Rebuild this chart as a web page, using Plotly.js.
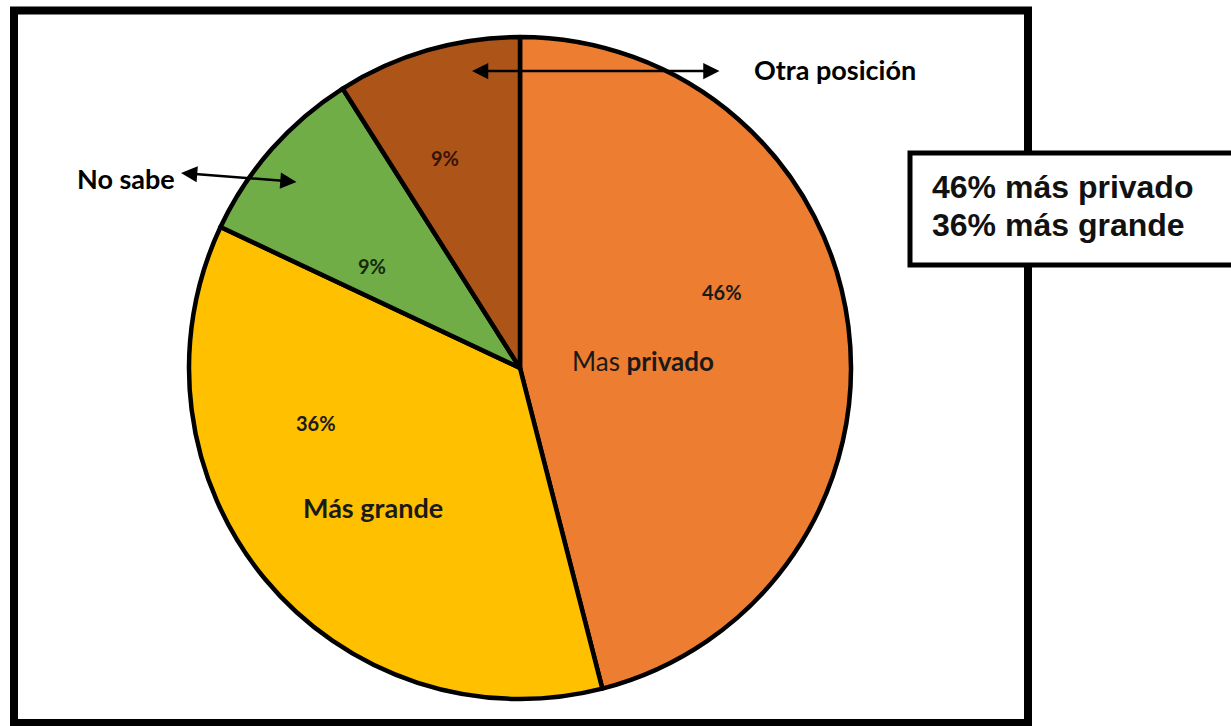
<!DOCTYPE html>
<html>
<head>
<meta charset="utf-8">
<script src="https://cdn.plot.ly/plotly-3.0.1.min.js"></script>
<style>html,body{margin:0;padding:0;background:#fff;}#chart{width:1231px;height:726px;}</style>
</head>
<body>
<div id="chart"></div>
<script>
// ---- data ----
const categories = ["Mas privado", "Más grande", "No sabe", "Otra posición"];
const values = [46, 36, 9, 9];
const sliceColors = ["#ED7D31", "#FFC000", "#70AD47", "#AD5519"];
const summaryLines = ["46% más privado", "36% más grande"];

// ---- layout helpers (positions in pixels of the 1231x726 page) ----
const W = 1231, H = 726;
const px = x => x / W;
const py = y => 1 - y / H;
const cx = 520, cy = 368, R = 331;

const pctPos = [[722, 292], [316, 423], [372, 266], [445, 158]];
const pctColors = ["#1a1a1a", "#1a1a1a", "#142a0c", "#3a1206"];
const font = "Lato, 'Open Sans', sans-serif";

function ann(o) {
  return Object.assign({xref: "paper", yref: "paper", xanchor: "center", yanchor: "middle", showarrow: false}, o);
}

const annotations = [];
values.forEach((v, i) => {
  annotations.push(ann({
    x: px(pctPos[i][0]), y: py(pctPos[i][1]),
    text: "<b>" + v + "%</b>",
    font: {family: font, size: 20, color: pctColors[i]}
  }));
});
// inside category labels
annotations.push(ann({
  x: px(643), y: py(361),
  text: "Mas <b>privado</b>",
  font: {family: font, size: 26, color: "#1a1a1a"}
}));
annotations.push(ann({
  x: px(373), y: py(507),
  text: "<b>" + categories[1] + "</b>",
  font: {family: font, size: 27, color: "#1a1a1a"}
}));
// outside labels with arrows
annotations.push(ann({
  x: px(752), y: py(70), xanchor: "left",
  text: "<b>" + categories[3] + "</b>",
  font: {family: font, size: 27, color: "#000"}
}));
annotations.push(ann({
  x: px(177), y: py(178), xanchor: "right",
  text: "<b>" + categories[2] + "</b>",
  font: {family: font, size: 27, color: "#000"}
}));
annotations.push({
  xref: "paper", yref: "paper", x: px(472), y: py(71), ax: 249, ay: 0,
  axref: "pixel", ayref: "pixel", text: "", showarrow: true,
  arrowhead: 2, startarrowhead: 2, arrowside: "end+start",
  arrowsize: 1.3, startarrowsize: 1.3, arrowwidth: 2.5, arrowcolor: "#000"
});
annotations.push({
  xref: "paper", yref: "paper", x: px(181), y: py(173), ax: 117, ay: 9,
  axref: "pixel", ayref: "pixel", text: "", showarrow: true,
  arrowhead: 2, startarrowhead: 2, arrowside: "end+start",
  arrowsize: 1.3, startarrowsize: 1.3, arrowwidth: 2.5, arrowcolor: "#000"
});
// summary box text
summaryLines.forEach((t, i) => {
  annotations.push(ann({
    x: px(930), y: py(187 + i * 38), xanchor: "left",
    text: "<b>" + t + "</b>",
    font: {family: "'Liberation Sans', Arial, sans-serif", size: 32, color: "#111"}
  }));
});

const shapes = [
  {type: "rect", xref: "paper", yref: "paper", x0: px(14), x1: px(1028), y0: py(10.5), y1: py(723),
   line: {color: "#000", width: 8}, fillcolor: "rgba(0,0,0,0)", layer: "below"},
  {type: "rect", xref: "paper", yref: "paper", x0: px(910), x1: px(1240), y0: py(153), y1: py(265),
   line: {color: "#000", width: 5}, fillcolor: "#fff", layer: "above"}
];

const trace = {
  type: "pie",
  labels: categories,
  values: values,
  sort: false,
  direction: "clockwise",
  rotation: 0,
  textinfo: "none",
  hoverinfo: "label+percent",
  marker: {colors: sliceColors, line: {color: "#000", width: 4.5}},
  domain: {x: [px(cx - R), px(cx + R)], y: [py(cy + R), py(cy - R)]},
  showlegend: false
};

Plotly.newPlot("chart", [trace], {
  width: W, height: H,
  margin: {l: 0, r: 0, t: 0, b: 0},
  paper_bgcolor: "#fff",
  showlegend: false,
  annotations: annotations,
  shapes: shapes
}, {displayModeBar: false, staticPlot: true});
</script>
</body>
</html>
